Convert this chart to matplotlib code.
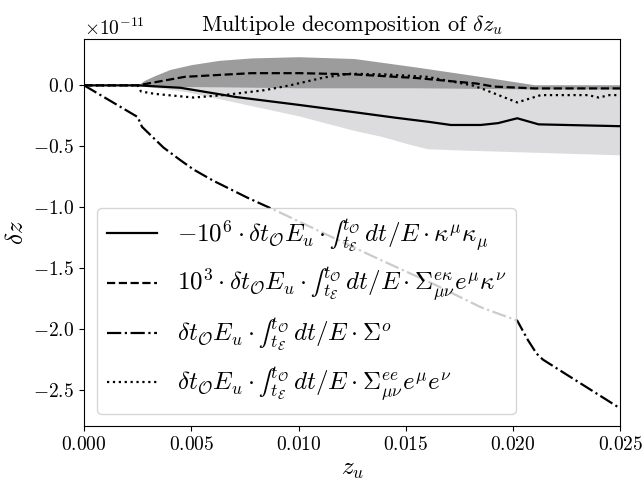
import numpy as np
import matplotlib as mpl
mpl.use('Agg')
import matplotlib.pyplot as plt

plt.rcParams['font.family'] = 'serif'
plt.rcParams['font.serif'] = ['cmr10', 'DejaVu Serif']
plt.rcParams['mathtext.fontset'] = 'cm'
plt.rcParams['axes.formatter.use_mathtext'] = True

SCALE = 1e-11

# kappa^mu kappa_mu term (solid)
z_solid = [0, 0.0025, 0.0045, 0.0071, 0.0100, 0.0126, 0.0145, 0.0161,
           0.0171, 0.0185, 0.0193, 0.0202, 0.0212, 0.025]
dz_solid = [0, 0, -0.02, -0.096, -0.16, -0.22, -0.265, -0.30,
            -0.325, -0.325, -0.31, -0.27, -0.32, -0.335]

# band around solid term
z_band_solid = [0, 0.0025, 0.0047, 0.0071, 0.0100, 0.0126, 0.0139, 0.0151,
                0.0160, 0.0175, 0.025]
lo_band_solid = [0, 0, -0.05, -0.14, -0.25, -0.37, -0.42, -0.48,
                 -0.52, -0.53, -0.57]
hi_band_solid = [0, 0, 0, 0, 0, 0, 0, 0, 0, 0, 0]

# Sigma^{e kappa} term (dashed)
z_dash = [0, 0.0025, 0.0047, 0.0078, 0.0101, 0.0126, 0.0155, 0.0183,
          0.0191, 0.0210, 0.025]
dz_dash = [0, 0, 0.07, 0.10, 0.10, 0.09, 0.06, 0.015, -0.01, -0.025, -0.025]

# band around dashed term
z_band_dash = [0, 0.0025, 0.0028, 0.0033, 0.0040, 0.0050, 0.0063, 0.0078,
               0.0100, 0.0126, 0.0155, 0.0186, 0.0210, 0.025]
hi_band_dash = [0, 0, 0.04, 0.08, 0.13, 0.17, 0.205, 0.225,
                0.235, 0.22, 0.15, 0.07, 0.005, 0.005]
lo_band_dash = [0, 0, 0, -0.005, -0.008, -0.01, -0.012, -0.015,
                -0.02, -0.02, -0.02, -0.025, -0.03, -0.03]

# Sigma^o term (dash-dot)
z_dd = [0, 0.0025, 0.0027, 0.0037, 0.0045, 0.0051, 0.0060, 0.0076, 0.0091,
        0.0115, 0.0138, 0.0163, 0.0185, 0.0202, 0.0207, 0.0211, 0.0214, 0.025]
dz_dd = [0, -0.26, -0.34, -0.51, -0.615, -0.69, -0.78, -0.92, -1.04,
         -1.24, -1.43, -1.63, -1.82, -1.93, -2.09, -2.20, -2.25, -2.65]

# Sigma^{ee} term (dotted)
z_dot = [0, 0.0025, 0.00265, 0.0033, 0.0051, 0.0065, 0.0084, 0.0096, 0.0112,
         0.0124, 0.0140, 0.0160, 0.0181, 0.0186, 0.0202, 0.0213, 0.0235,
         0.0240, 0.0245, 0.025]
dz_dot = [0, 0, -0.05, -0.07, -0.10, -0.08, -0.04, 0.0, 0.065,
          0.095, 0.09, 0.07, 0.0, -0.03, -0.14, -0.08, -0.08,
          -0.10, -0.08, -0.08]

# inline (text-style) integral: unicode glyph instead of the big \int
INT = '\u222b' + r'_{t_\mathcal{E}}^{t_\mathcal{O}}\, dt/E'
labels = [
    r'$-10^6 \cdot \delta t_\mathcal{O} E_u \cdot ' + INT + r' \cdot \kappa^\mu \kappa_\mu$',
    r'$10^3 \cdot \delta t_\mathcal{O} E_u \cdot ' + INT + r' \cdot \Sigma^{e\kappa}_{\mu\nu} e^\mu \kappa^\nu$',
    r'$\delta t_\mathcal{O} E_u \cdot ' + INT + r' \cdot \Sigma^o$',
    r'$\delta t_\mathcal{O} E_u \cdot ' + INT + r' \cdot \Sigma^{ee}_{\mu\nu} e^\mu e^\nu$',
]


def sc(vals):
    return np.asarray(vals) * SCALE


fig = plt.figure(figsize=(6.42, 4.8), dpi=100)
ax = fig.add_axes([0.131, 0.1125, 0.835, 0.806])

ax.fill_between(z_band_solid, sc(lo_band_solid), sc(hi_band_solid),
                color='#dcdcde', lw=0)
ax.fill_between(z_band_dash, sc(lo_band_dash), sc(hi_band_dash),
                color='#9c9c9c', lw=0)

ax.plot(z_solid, sc(dz_solid), 'k-', lw=1.6, label=labels[0])
ax.plot(z_dash, sc(dz_dash), 'k--', lw=1.6, label=labels[1])
ax.plot(z_dd, sc(dz_dd), 'k-.', lw=1.6, label=labels[2])
ax.plot(z_dot, sc(dz_dot), 'k:', lw=1.6, label=labels[3])

ax.set_xlim(0, 0.025)
ax.set_xticks([0, 0.005, 0.01, 0.015, 0.02, 0.025])
ax.tick_params(labelsize=14)
ax.yaxis.get_offset_text().set_fontsize(14)
ax.set_xlabel(r'$z_u$', fontsize=18)
ax.set_ylabel(r'$\delta z$', fontsize=18)
ax.yaxis.set_label_coords(-0.105, 0.5)
ax.set_title(r'Multipole decomposition of $\delta z_u$', fontsize=16)

ax.legend(loc='lower left', fontsize=18)

fig.savefig('out.png', dpi=100)
